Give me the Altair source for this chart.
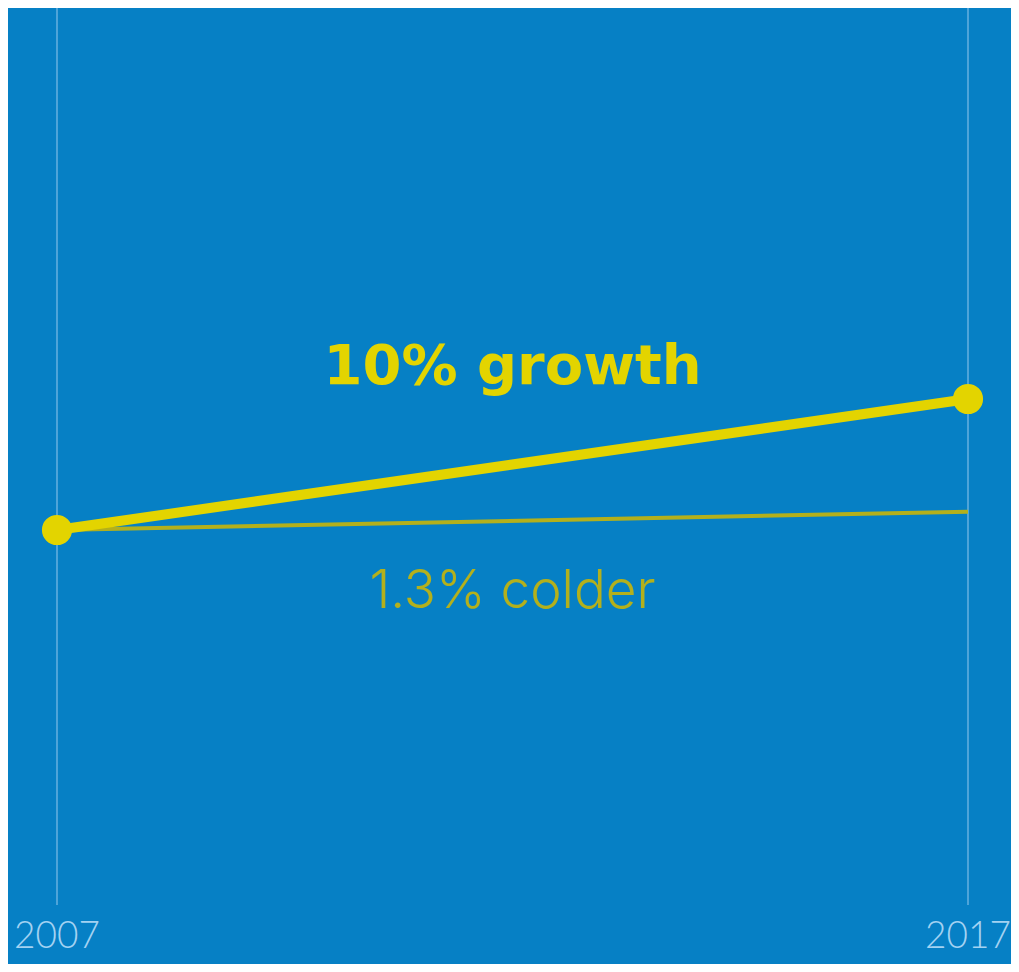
import altair as alt
import pandas as pd

years = [2007, 2017]
growth = [100.0, 110.0]
colder = [100.0, 101.4]
label_texts = ["10% growth", "1.3% colder"]
label_x = [2012, 2012]
label_y = [112.45, 95.3]

BG = "#0680c5"
YELLOW = "#e3d400"
OLIVE = "#b3b01c"
RULE = "#7fbde6"
TXT = "#a3d2f2"

xs = alt.Scale(domain=[2007, 2017], range=[49, 960])
ys = alt.Scale(domain=[100, 110], range=[522, 391])

grow_df = pd.DataFrame({"year": years, "v": growth})
cold_df = pd.DataFrame({"year": years, "v": colder})
yr_df = pd.DataFrame({"year": years, "label": [str(y) for y in years]})

rules = alt.Chart(yr_df).mark_rule(color=RULE, strokeWidth=1.2).encode(
    x=alt.X("year:Q", scale=xs, axis=None),
    y=alt.value(-5), y2=alt.value(897),
)
yr_text = alt.Chart(yr_df).mark_text(
    font="Lato", fontWeight=300, fontSize=37, color=TXT, baseline="middle"
).encode(
    x=alt.X("year:Q", scale=xs, axis=None),
    y=alt.value(929),
    text="label:N",
)
cold_line = alt.Chart(cold_df).mark_line(color=OLIVE, strokeWidth=4).encode(
    x=alt.X("year:Q", scale=xs, axis=None),
    y=alt.Y("v:Q", scale=ys, axis=None),
)
grow_line = alt.Chart(grow_df).mark_line(color=YELLOW, strokeWidth=10).encode(
    x=alt.X("year:Q", scale=xs, axis=None),
    y=alt.Y("v:Q", scale=ys, axis=None),
)
grow_pts = alt.Chart(grow_df).mark_circle(color=YELLOW, opacity=1, size=910).encode(
    x=alt.X("year:Q", scale=xs, axis=None),
    y=alt.Y("v:Q", scale=ys, axis=None),
)
lab1 = alt.Chart(pd.DataFrame({"x": [label_x[0]], "y": [label_y[0]], "t": [label_texts[0]]})).mark_text(
    font="DejaVu Sans", fontWeight="bold", fontSize=56, color=YELLOW, baseline="middle"
).encode(
    x=alt.X("x:Q", scale=xs, axis=None),
    y=alt.Y("y:Q", scale=ys, axis=None),
    text="t:N",
)
lab2 = alt.Chart(pd.DataFrame({"x": [label_x[1]], "y": [label_y[1]], "t": [label_texts[1]]})).mark_text(
    font="Inter", fontWeight=300, fontSize=53, color=OLIVE, baseline="middle"
).encode(
    x=alt.X("x:Q", scale=xs, axis=None),
    y=alt.Y("y:Q", scale=ys, axis=None),
    text="t:N",
)

chart = alt.layer(rules, yr_text, cold_line, grow_line, grow_pts, lab1, lab2).properties(
    width=1003, height=956, background=BG, padding=0,
    autosize=alt.AutoSizeParams(type="none"),
).configure_view(stroke=None)

chart.save("out.html", embed_options={"renderer": "svg", "actions": False})
